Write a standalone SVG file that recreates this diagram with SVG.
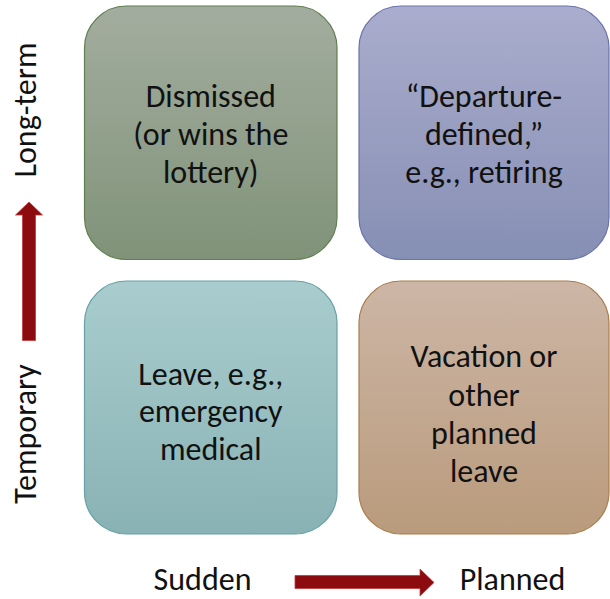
<svg xmlns="http://www.w3.org/2000/svg" width="610" height="599" viewBox="0 0 610 599">
  <defs>
    <linearGradient id="gGreen" x1="0" y1="0" x2="0" y2="1">
      <stop offset="0" stop-color="#a3ad9f"/>
      <stop offset="1" stop-color="#809379"/>
    </linearGradient>
    <linearGradient id="gBlue" x1="0" y1="0" x2="0" y2="1">
      <stop offset="0" stop-color="#aaadcd"/>
      <stop offset="1" stop-color="#868fb4"/>
    </linearGradient>
    <linearGradient id="gTeal" x1="0" y1="0" x2="0" y2="1">
      <stop offset="0" stop-color="#a9cdce"/>
      <stop offset="1" stop-color="#89b2b4"/>
    </linearGradient>
    <linearGradient id="gTan" x1="0" y1="0" x2="0" y2="1">
      <stop offset="0" stop-color="#cdb6a6"/>
      <stop offset="1" stop-color="#b99b7c"/>
    </linearGradient>
  </defs>
  <style>
    .box { stroke-width: 1.2; }
    .lbl { font-family: Calibri, Carlito, "Open Sans", "Liberation Sans", sans-serif; font-size: 32px; fill: #111111; text-anchor: middle; }
    .arrow { fill: #8b0b0e; stroke: #c0393c; stroke-width: 0.8; stroke-linejoin: miter; }
  </style>

  <g id="node-dismissed">
    <rect class="box" x="84.5" y="6" width="252.5" height="253.5" rx="42" ry="42" fill="url(#gGreen)" stroke="#5f7f50"/>
    <text class="lbl" x="210.75" y="107">Dismissed</text>
    <text class="lbl" x="210.75" y="145">(or wins the</text>
    <text class="lbl" x="210.75" y="183">lottery)</text>
  </g>

  <g id="node-departure">
    <rect class="box" x="359" y="6" width="250" height="253.5" rx="42" ry="42" fill="url(#gBlue)" stroke="#6a73aa"/>
    <text class="lbl" x="484" y="107">“Departure-</text>
    <text class="lbl" x="484" y="145">defined,”</text>
    <text class="lbl" x="484" y="183">e.g., retiring</text>
  </g>

  <g id="node-leave">
    <rect class="box" x="84.5" y="281" width="252.5" height="253" rx="42" ry="42" fill="url(#gTeal)" stroke="#67a1a4"/>
    <text class="lbl" x="210.75" y="385">Leave, e.g.,</text>
    <text class="lbl" x="210.75" y="422">emergency</text>
    <text class="lbl" x="210.75" y="460">medical</text>
  </g>

  <g id="node-vacation">
    <rect class="box" x="359" y="281" width="250" height="253" rx="42" ry="42" fill="url(#gTan)" stroke="#a87e4d"/>
    <text class="lbl" x="484" y="367">Vacation or</text>
    <text class="lbl" x="484" y="406">other</text>
    <text class="lbl" x="484" y="444">planned</text>
    <text class="lbl" x="484" y="482">leave</text>
  </g>

  <g id="axis-labels">
    <text class="lbl" transform="translate(36,110) rotate(-90)">Long-term</text>
    <text class="lbl" transform="translate(36,434) rotate(-90)">Temporary</text>
    <text class="lbl" x="202.5" y="590">Sudden</text>
    <text class="lbl" x="512.5" y="590">Planned</text>
  </g>

  <g id="connectors">
    <polygon class="arrow" points="29,202 42.5,215 35.5,215 35.5,340.5 22.5,340.5 22.5,215 15.5,215"/>
    <polygon class="arrow" points="434,582.5 420,569 420,575.5 295,575.5 295,588.5 420,588.5 420,596"/>
  </g>
</svg>
